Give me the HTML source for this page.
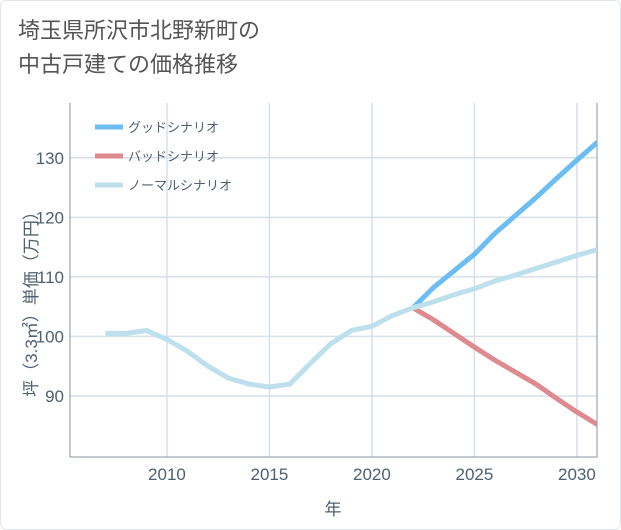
<!DOCTYPE html>
<html><head><meta charset="utf-8"><style>
body{margin:0;background:#fff;}
.wrap{position:relative;width:619px;height:528px;border:1px solid #e2e6ea;border-radius:6px;font-family:"Liberation Sans","Noto Sans CJK JP",sans-serif;overflow:hidden;}
.title{position:absolute;left:17px;top:13px;font-size:22px;line-height:34px;color:#555;}
</style></head><body>
<div class="wrap">
<div class="title">埼玉県所沢市北野新町の<br>中古戸建ての価格推移</div>
<svg id="c" width="621" height="530" style="position:absolute;left:-1px;top:-1px"></svg>
</div>
<script>
const years=[2007,2008,2009,2010,2011,2012,2013,2014,2015,2016,2017,2018,2019,2020,2021,2022,2023,2024,2025,2026,2027,2028,2029,2030,2031];
const normal=[100.5,100.5,101,99.5,97.5,95,93,92,91.5,92,95.5,98.8,101,101.7,103.5,104.8,105.8,107,108,109.3,110.3,111.4,112.5,113.6,114.6];
const goodYears=[2022,2023,2024,2025,2026,2027,2028,2029,2030,2031];
const good=[104.8,108.2,111,113.8,117.3,120.3,123.3,126.5,129.6,132.6];
const bad=[104.8,102.8,100.5,98.2,96,94,92,89.6,87.3,85.2];
const xTicks=[2010,2015,2020,2025,2030];
const yTicks=[90,100,110,120,130];
const L=70,R=597,T=103,B=457,X0=2005.27,X1=2030.98,Y0=79.75,Y1=139.2;
const sx=v=>L+(v-X0)/(X1-X0)*(R-L);
const sy=v=>B-(v-Y0)/(Y1-Y0)*(B-T);
const svg=document.getElementById('c');const NS='http://www.w3.org/2000/svg';
function mk(t,a){const e=document.createElementNS(NS,t);for(const k in a)e.setAttribute(k,a[k]);svg.appendChild(e);return e;}
const cp=mk('clipPath',{id:'cl'});const cr=document.createElementNS(NS,'rect');cr.setAttribute('x',L);cr.setAttribute('y',T);cr.setAttribute('width',R-L);cr.setAttribute('height',B-T);cp.appendChild(cr);
xTicks.forEach(v=>{const g=mk('line',{x1:sx(v),x2:sx(v),y1:T,y2:B,stroke:'#d5e0ea','stroke-width':1.5});

const t=mk('text',{x:sx(v),y:B+23,'text-anchor':'middle','font-size':17,fill:'#4f6070'});t.textContent=v;
});
yTicks.forEach(v=>{const g=mk('line',{x1:L,x2:R,y1:sy(v),y2:sy(v),stroke:'#d5e0ea','stroke-width':1.5});

const t=mk('text',{x:L-6,y:sy(v)+6,'text-anchor':'end','font-size':17,fill:'#4f6070'});t.textContent=v;
});
const ax=mk('path',{d:`M${L} ${T}V${B}H${R}V${T}`,fill:'none',stroke:'#8a96a2','stroke-width':1});

function line(xs,ys,c,n){const p=mk('polyline',{points:xs.map((x,i)=>sx(x)+','+sy(ys[i])).join(' '),fill:'none',stroke:c,'stroke-width':5,'stroke-linejoin':'round','clip-path':'url(#cl)'});
}
line(goodYears,bad,'#df8a8f','bad-scenario-line');
line(goodYears,good,'#6cbdf3','good-scenario-line');
line(years,normal,'#bde0ec','normal-scenario-line');
[['グッドシナリオ','#6cbdf3'],['バッドシナリオ','#df8a8f'],['ノーマルシナリオ','#bde0ec']].forEach((d,i)=>{const y=127+i*29;
const l=mk('line',{x1:95,x2:123,y1:y,y2:y,stroke:d[1],'stroke-width':5});
const t=mk('text',{x:128,y:y+5,'font-size':13,fill:'#4f6070'});t.textContent=d[0];});
const xt=mk('text',{x:333,y:515,'text-anchor':'middle','font-size':17,fill:'#4f6070'});xt.textContent='年';

const yt=mk('text',{x:0,y:0,'text-anchor':'middle','font-size':17,fill:'#4f6070',transform:'translate(37,300) rotate(-90)'});yt.textContent='坪（3.3㎡）単価（万円）';

</script>
</body></html>
